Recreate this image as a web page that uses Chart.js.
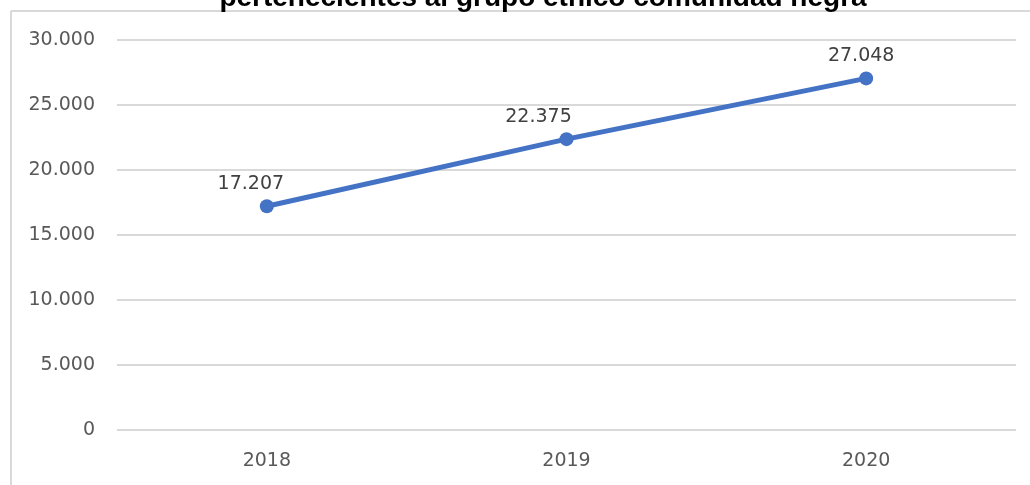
<!DOCTYPE html>
<html>
<head>
<meta charset="utf-8">
<script src="https://cdn.jsdelivr.net/npm/chart.js@4/dist/chart.umd.min.js"></script>
<style>
  html, body { margin: 0; padding: 0; background: #fff; overflow: hidden; }
  #wrap { position: relative; width: 1030px; height: 485px; }
</style>
</head>
<body>
<div id="wrap"><canvas id="myChart"></canvas></div>
<script>
const titleText = 'pertenecientes al grupo étnico comunidad negra';
const years = ['2018', '2019', '2020'];
const values = [17207, 22375, 27048];
const yTicks = [0, 5000, 10000, 15000, 20000, 25000, 30000];

const fmt = v => String(v).replace(/\B(?=(\d{3})+(?!\d))/g, '.');

// frame lines, clipped title, point labels
const decor = {
    id: 'decor',
    beforeDraw(chart) {
        const c = chart.ctx;
        c.save();
        c.strokeStyle = '#d9d9d9';
        c.lineWidth = 2;
        c.beginPath();
        c.moveTo(11, 11); c.lineTo(1030, 11);
        c.moveTo(11, 11); c.lineTo(11, 485);
        c.stroke();
        c.fillStyle = '#000';
        c.font = 'bold 28px "Liberation Sans", Arial, sans-serif';
        c.textAlign = 'center';
        c.textBaseline = 'alphabetic';
        c.fillText(titleText, 543, 6);
        c.restore();
    },
    afterDatasetsDraw(chart, args, opts) {
        const c = chart.ctx;
        const meta = chart.getDatasetMeta(0);
        c.save();
        c.fillStyle = '#404040';
        c.font = '19px "DejaVu Sans", sans-serif';
        c.textAlign = 'center';
        c.textBaseline = 'middle';
        meta.data.forEach((pt, i) => {
            c.fillText(fmt(values[i]), pt.x + opts.shiftX[i], pt.y - 22);
        });
        c.restore();
    }
};

const ctx = document.getElementById('myChart').getContext('2d');
new Chart(ctx, {
    type: 'line',
    data: {
        labels: years,
        datasets: [{
            data: values,
            borderColor: '#4472C4',
            backgroundColor: '#4472C4',
            borderWidth: 5,
            pointRadius: 7,
            pointBorderWidth: 0,
            pointHoverRadius: 7,
            tension: 0
        }]
    },
    options: {
        responsive: true,
        maintainAspectRatio: false,
        animation: false,
        layout: { padding: { top: 40, right: 14, left: 0, bottom: 0 } },
        plugins: {
            legend: { display: false },
            title: { display: false },
            tooltip: { enabled: false },
            decor: { shiftX: [-16, -28, -5] }
        },
        scales: {
            x: {
                offset: true,
                grid: { display: false, drawTicks: false },
                border: { display: false },
                ticks: {
                    color: '#595959',
                    font: { family: '"DejaVu Sans", sans-serif', size: 19 },
                    padding: 20
                },
                afterFit(s) { s.height = 55; }
            },
            y: {
                min: 0,
                max: 30000,
                afterBuildTicks(s) { s.ticks = yTicks.map(v => ({ value: v })); },
                grid: { color: '#d9d9d9', lineWidth: 2, drawTicks: false },
                border: { display: false },
                ticks: {
                    color: '#595959',
                    font: { family: '"DejaVu Sans", sans-serif', size: 19 },
                    padding: 22,
                    callback: v => fmt(v)
                },
                afterFit(s) { s.width = 117; }
            }
        }
    },
    plugins: [decor]
});
</script>
</body>
</html>
